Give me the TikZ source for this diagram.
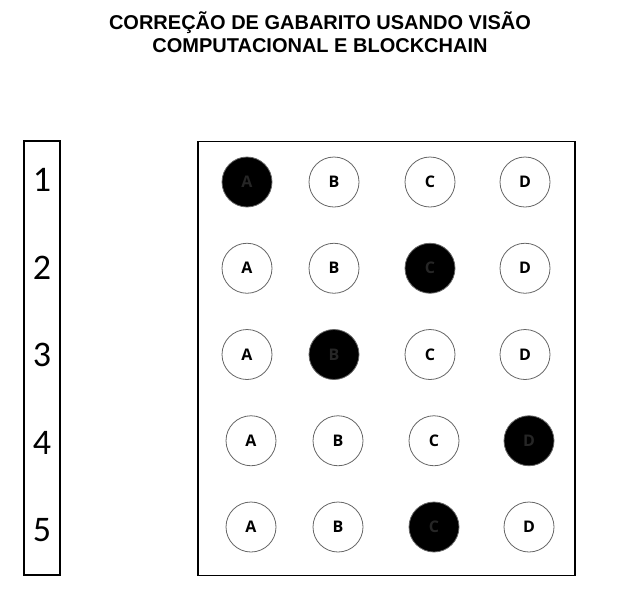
\documentclass[tikz,border=0pt]{standalone}
\usepackage{fontspec}
\setmainfont{Carlito}
\newfontfamily\arialfont{Liberation Sans}
\newfontfamily\letrafont{Open Sans}
\usepackage{tikz}

\begin{document}
\begin{tikzpicture}[x=1pt,y=-1pt,
  titulo/.style={align=center,font=\arialfont\bfseries\fontsize{20}{22.5}\selectfont},
  moldura/.style={draw,line width=1.6pt,rectangle,inner sep=0pt},
  numero/.style={font=\fontsize{36}{36}\selectfont,inner sep=0pt},
  bolha/.style={circle,draw=black!60,line width=0.8pt,minimum size=50pt,inner sep=0pt,font=\letrafont\bfseries\fontsize{16}{16}\selectfont},
  marcada/.style={bolha,fill=black,text=black!85}]
\useasboundingbox (0,0) rectangle (621,614);
\node[titulo] (titulo) at (320,32) {CORREÇÃO DE GABARITO USANDO VISÃO\\COMPUTACIONAL E BLOCKCHAIN};
% coluna das questoes
\node[moldura,minimum width=36pt,minimum height=434pt] (questoes) at (42,358) {};
\foreach \q in {1,...,5} {
   \node[numero] (n\q) at (42,{180+(\q-1)*87.5}) {\q};
}
% cartao de respostas
\node[moldura,minimum width=377pt,minimum height=434pt] (cartao) at (386.5,358.5) {};
\foreach \q/\x/\m in %
{1/247/1,2/247/3,3/247/2,4/251/4,5/251/3} {
   \foreach \l/\dx [count=\i] in {A/0,B/87,C/183,D/278} {
      \ifnum\i=\m \def\estilo{marcada}\else\def\estilo{bolha}\fi
      \node[\estilo] (b\q\l) at (\x+\dx,{182+(\q-1)*86.25}) {\l};
   }
}
\end{tikzpicture}
\end{document}
